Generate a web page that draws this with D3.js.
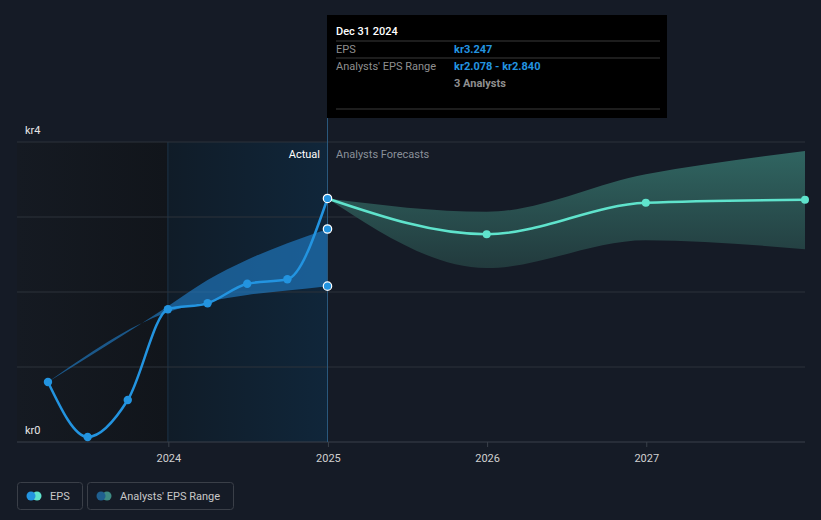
<!DOCTYPE html>
<html>
<head>
<meta charset="utf-8">
<script src="https://cdn.jsdelivr.net/npm/d3@7"></script>
<style>
  body { margin: 0; background: #151b26; font-family: Roboto, "Open Sans", sans-serif; }
  svg text { font-family: Roboto, "Open Sans", sans-serif; }
</style>
</head>
<body>
<div class="viz"></div>
<script>
// actual EPS, quarterly
const pastDates = ["2023-03-31", "2023-06-30", "2023-09-30", "2023-12-31", "2024-03-31", "2024-06-30", "2024-09-30", "2024-12-31"];
const pastEps = [0.80, 0.067, 0.56, 1.77, 1.85, 2.11, 2.17, 3.247];

// analysts range in the past
const pastRangeDates = ["2023-03-31", "2023-12-31", "2024-03-31", "2024-06-30", "2024-09-30", "2024-12-31"];
const pastRangeLow = [0.80, 1.73, 1.87, 1.96, 2.02, 2.078];
const pastRangeHigh = [0.80, 1.81, 2.16, 2.43, 2.65, 2.84];

// forecasts
const fcDates = ["2024-12-31", "2025-12-31", "2026-12-31", "2027-12-31"];
const fcEps = [3.247, 2.77, 3.19, 3.23];
const fcLow = [3.247, 2.32, 2.69, 2.57];
const fcHigh = [3.247, 3.07, 3.57, 3.88];

const yTicks = [0, 1, 2, 3, 4];
const xTicks = ["2024-01-01", "2025-01-01", "2026-01-01", "2027-01-01"];

const W = 821, H = 520;
const parse = d3.timeParse("%Y-%m-%d");

const x = d3.scaleTime()
    .domain([parse("2023-01-19"), parse("2027-12-31")])
    .range([17, 805]);
const y = d3.scaleLinear()
    .domain([0, 4])
    .range([442, 142]);

const svg = d3.select('.viz')
    .append('svg')
    .attr('width', W)
    .attr('height', H);

const defs = svg.append("defs");
const g1 = defs.append("linearGradient").attr("id", "pastBg");
g1.append("stop").attr("offset", "0%").attr("stop-color", "#101c28");
g1.append("stop").attr("offset", "100%").attr("stop-color", "#10263a");
const g0 = defs.append("linearGradient").attr("id", "oldBg");
g0.append("stop").attr("offset", "0%").attr("stop-color", "#151a22");
g0.append("stop").attr("offset", "100%").attr("stop-color", "#11151b");
const g2 = defs.append("linearGradient").attr("id", "fcBand")
    .attr("x1", 0).attr("x2", 0).attr("y1", 0).attr("y2", 1);
g2.append("stop").attr("offset", "0%").attr("stop-color", "#306561");
g2.append("stop").attr("offset", "100%").attr("stop-color", "#223a3d");

// background regions
svg.append("rect")
    .attr("x", x.range()[0]).attr("y", 142)
    .attr("width", x(parse("2023-12-31")) - x.range()[0])
    .attr("height", 300)
    .attr("fill", "url(#oldBg)");
svg.append("rect")
    .attr("x", x(parse("2023-12-31"))).attr("y", 142)
    .attr("width", x(parse("2024-12-31")) - x(parse("2023-12-31")))
    .attr("height", 300)
    .attr("fill", "url(#pastBg)");
svg.append("line")
    .attr("x1", x(parse("2023-12-31"))).attr("x2", x(parse("2023-12-31")))
    .attr("y1", 142).attr("y2", 442)
    .attr("stroke", "#1c3347");

// grid
svg.selectAll(".grid")
    .data(yTicks)
    .enter()
    .append("line")
    .attr("x1", 17).attr("x2", 805)
    .attr("y1", d => y(d)).attr("y2", d => y(d))
    .attr("stroke", d => d === 0 ? "#3a404a" : "#2c323b");

svg.selectAll(".ylab")
    .data([0, 4])
    .enter()
    .append("text")
    .attr("x", 25)
    .attr("y", d => y(d) - 8)
    .attr("fill", "#e6e6e6")
    .attr("font-size", 11)
    .text(d => "kr" + d);

// x axis
const xg = svg.append("g")
    .attr("transform", "translate(0,442)")
    .call(d3.axisBottom(x)
        .tickValues(xTicks.map(parse))
        .tickSize(5)
        .tickFormat(d3.timeFormat("%Y")));
xg.select(".domain").remove();
xg.selectAll("line").attr("stroke", "#3a404a");
xg.selectAll("text")
    .attr("fill", "#d0d0d0")
    .attr("font-size", 11)
    .attr("dy", "1.1em")
    .style("font-family", "Roboto, sans-serif");

// bands
const area = d3.area()
    .x(d => x(d.date))
    .y0(d => y(d.low))
    .y1(d => y(d.high))
    .curve(d3.curveMonotoneX);

const pastBand = pastRangeDates.map((d, i) => ({ date: parse(d), low: pastRangeLow[i], high: pastRangeHigh[i] }));
const fcBand = fcDates.map((d, i) => ({ date: parse(d), low: fcLow[i], high: fcHigh[i] }));

svg.append("path")
    .datum(pastBand)
    .attr("d", area)
    .attr("fill", "#2180cc")
    .attr("opacity", 0.62);

svg.append("path")
    .datum(fcBand)
    .attr("d", area)
    .attr("fill", "url(#fcBand)");

// divider / tooltip line
svg.append("line")
    .attr("x1", x(parse("2024-12-31"))).attr("x2", x(parse("2024-12-31")))
    .attr("y1", 15).attr("y2", 442)
    .attr("stroke", "#2b5a7e");

// lines
const line = d3.line()
    .x(d => x(d.date))
    .y(d => y(d.v))
    .curve(d3.curveMonotoneX);

const pastPts = pastDates.map((d, i) => ({ date: parse(d), v: pastEps[i] }));
const fcPts = fcDates.map((d, i) => ({ date: parse(d), v: fcEps[i] }));

svg.append("path")
    .datum(fcPts)
    .attr("d", line)
    .attr("fill", "none")
    .attr("stroke", "#5fe3cc")
    .attr("stroke-width", 2.5);

svg.append("path")
    .datum(pastPts)
    .attr("d", line)
    .attr("fill", "none")
    .attr("stroke", "#2394e0")
    .attr("stroke-width", 2.5);

svg.selectAll(".fcdot")
    .data(fcPts.slice(1))
    .enter()
    .append("circle")
    .attr("cx", d => x(d.date))
    .attr("cy", d => y(d.v))
    .attr("r", 4)
    .attr("fill", "#5fe3cc");

svg.selectAll(".pdot")
    .data(pastPts.slice(0, -1))
    .enter()
    .append("circle")
    .attr("cx", d => x(d.date))
    .attr("cy", d => y(d.v))
    .attr("r", 4.2)
    .attr("fill", "#2394e0");

// highlighted points at the hovered date
const last = pastBand[pastBand.length - 1];
svg.selectAll(".hdot")
    .data([pastEps[pastEps.length - 1], last.high, last.low])
    .enter()
    .append("circle")
    .attr("cx", x(last.date))
    .attr("cy", d => y(d))
    .attr("r", 4.2)
    .attr("fill", "#2394e0")
    .attr("stroke", "#ffffff")
    .attr("stroke-width", 1.2);

// labels
svg.append("text")
    .attr("x", 320).attr("y", 158)
    .attr("text-anchor", "end")
    .attr("fill", "#ffffff")
    .attr("font-size", 11)
    .text("Actual");
svg.append("text")
    .attr("x", 336).attr("y", 158)
    .attr("fill", "#8a9099")
    .attr("font-size", 11)
    .text("Analysts Forecasts");

// tooltip
const tip = svg.append("g");
tip.append("rect")
    .attr("x", 327).attr("y", 15)
    .attr("width", 340).attr("height", 103)
    .attr("fill", "#000000");
tip.append("text")
    .attr("x", 336).attr("y", 35)
    .attr("fill", "#ffffff")
    .attr("font-size", 11)
    .attr("font-weight", 500)
    .text("Dec 31 2024");
[41, 58, 109].forEach(function(yy) {
    tip.append("line")
        .attr("x1", 336).attr("x2", 660)
        .attr("y1", yy).attr("y2", yy)
        .attr("stroke", "#3a3a3a");
});
tip.append("text").attr("x", 336).attr("y", 53)
    .attr("fill", "#8f8f8f").attr("font-size", 11).text("EPS");
tip.append("text").attr("x", 454).attr("y", 53)
    .attr("fill", "#2394e0").attr("font-size", 11).attr("font-weight", "bold")
    .text("kr" + pastEps[pastEps.length - 1].toFixed(3));
tip.append("text").attr("x", 336).attr("y", 70)
    .attr("fill", "#8f8f8f").attr("font-size", 11).text("Analysts' EPS Range");
tip.append("text").attr("x", 454).attr("y", 70)
    .attr("fill", "#2394e0").attr("font-size", 11).attr("font-weight", "bold")
    .text("kr" + last.low.toFixed(3) + " - kr" + last.high.toFixed(3));
tip.append("text").attr("x", 454).attr("y", 87)
    .attr("fill", "#8f8f8f").attr("font-size", 11).attr("font-weight", "bold")
    .text("3 Analysts");

// legend
const leg = [
    { label: "EPS", x: 17, w: 65, c1: "#2394e0", c2: "#5fe3cc" },
    { label: "Analysts' EPS Range", x: 87, w: 146, c1: "#1f5f8f", c2: "#3d8a83" }
];
const lg = svg.selectAll(".leg")
    .data(leg)
    .enter()
    .append("g");
lg.append("rect")
    .attr("x", d => d.x + 0.5).attr("y", 482.5)
    .attr("width", d => d.w).attr("height", 27)
    .attr("rx", 3)
    .attr("fill", "none")
    .attr("stroke", "#3a3f48");
lg.append("circle")
    .attr("cx", d => d.x + 20).attr("cy", 496)
    .attr("r", 4.5)
    .attr("fill", d => d.c2);
lg.append("circle")
    .attr("cx", d => d.x + 14).attr("cy", 496)
    .attr("r", 4.5)
    .attr("fill", d => d.c1);
lg.append("text")
    .attr("x", d => d.x + 33).attr("y", 500)
    .attr("fill", "#c8c8c8")
    .attr("font-size", 11)
    .text(d => d.label);
</script>
</body>
</html>
